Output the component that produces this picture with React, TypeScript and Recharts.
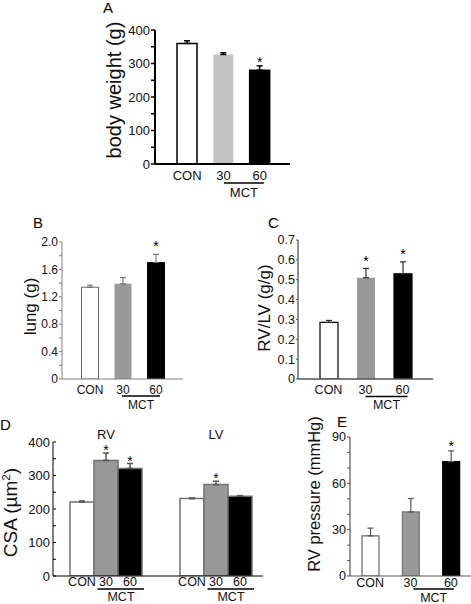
import React from "react";
import { BarChart, Bar, XAxis, YAxis, ErrorBar, Cell, LabelList } from "recharts";

const FONT = '"Liberation Sans", Arial, Helvetica, sans-serif';
const W = 471;
const H = 604;

// ---------- categories ----------
const groups = ["CON", "30", "60"];
const mctLabel = "MCT";
const panelLetters = ["A", "B", "C", "D", "E"];
const yTitles = ["body weight (g)", "lung (g)", "RV/LV (g/g)", "CSA (µm", "RV pressure (mmHg)"];

// ---------- A: body weight ----------
const bodyWeight = [360, 327, 280];
const bodyWeightErr = [8, 5, 13];
const bodyWeightSig = [false, false, true];

// ---------- B: lung ----------
const lungWeight = [1.34, 1.39, 1.7];
const lungWeightErr = [0.03, 0.09, 0.12];
const lungWeightSig = [false, false, true];

// ---------- C: RV/LV ----------
const rvLvRatio = [0.285, 0.51, 0.53];
const rvLvRatioErr = [0.01, 0.047, 0.06];
const rvLvRatioSig = [false, true, true];

// ---------- D: CSA ----------
const csaRegions = ["RV", "LV"];
const csaCon = [221, 231];
const csaConErr = [3, 2];
const csaConSig = [false, false];
const csa30 = [345, 273];
const csa30Err = [22, 10];
const csa30Sig = [true, true];
const csa60 = [321, 238];
const csa60Err = [15, 2];
const csa60Sig = [true, false];

// ---------- E: RV pressure ----------
const rvPressure = [26, 41.5, 74];
const rvPressureErr = [5, 8.7, 7];
const rvPressureSig = [false, false, true];

// ---------- tick values / labels ----------
const ticksA = [0, 50, 100, 150, 200, 250, 300, 350, 400];
const tickLabelsA = ["0", "", "100", "", "200", "", "300", "", "400"];
const ticksB = [0, 0.2, 0.4, 0.6, 0.8, 1.0, 1.2, 1.4, 1.6, 1.8, 2.0];
const tickLabelsB = ["0", "", "0.4", "", "0.8", "", "1.2", "", "1.6", "", "2.0"];
const ticksC = [0, 0.1, 0.2, 0.3, 0.4, 0.5, 0.6, 0.7];
const tickLabelsC = ["0", "0.1", "0.2", "0.3", "0.4", "0.5", "0.6", "0.7"];
const ticksD = [0, 50, 100, 150, 200, 250, 300, 350, 400];
const tickLabelsD = ["0", "", "100", "", "200", "", "300", "", "400"];
const ticksE = [0, 10, 20, 30, 40, 50, 60, 70, 80, 90];
const tickLabelsE = ["0", "", "", "30", "", "", "60", "", "", "90"];

const makeRows = (values: number[], errs: number[], sig: boolean[]) =>
  groups.map((g, i) => ({
    name: g,
    value: values[i],
    err: errs[i],
    errRange: [0, errs[i]],
    star: sig[i],
  }));

const csaRows = csaRegions.map((r, i) => ({
  name: r,
  con: csaCon[i],
  conErr: csaConErr[i],
  conRange: [0, csaConErr[i]],
  conStar: csaConSig[i],
  m30: csa30[i],
  m30Err: csa30Err[i],
  m30Range: [0, csa30Err[i]],
  m30Star: csa30Sig[i],
  m60: csa60[i],
  m60Err: csa60Err[i],
  m60Range: [0, csa60Err[i]],
  m60Star: csa60Sig[i],
}));

const fmt = (ticks: number[], labels: string[]) => (v: number) => {
  const i = ticks.findIndex((t) => Math.abs(t - v) < 1e-6);
  return i >= 0 ? labels[i] : "";
};

function starRenderer(rows: any[], valueKey: string, errKey: string, starKey: string, dy: number, size: number) {
  return function Star(props: any) {
    const vb = props.viewBox || {};
    const x = vb.x ?? props.x;
    const y = vb.y ?? props.y;
    const w = vb.width ?? props.width;
    const h = vb.height ?? props.height;
    const row = rows[props.index];
    if (!row || !row[starKey] || !row[valueKey]) return null;
    const top = y - (row[errKey] * h) / row[valueKey];
    return (
      <text x={x + w / 2} y={top + dy} textAnchor="middle" fontSize={size} fontFamily={FONT} fill="#000">
        *
      </text>
    );
  };
}

function makeXTick(cfg: any) {
  return function XT(props: any) {
    const { x, y, payload, index } = props;
    const x1 = x + cfg.lineA;
    const x2 = x + cfg.step + cfg.lineB;
    return (
      <g>
        <text x={x} y={y + cfg.labelDy} textAnchor="middle" fontSize={cfg.font} fontFamily={FONT} fill="#111">
          {payload.value}
        </text>
        {index === 1 ? (
          <>
            <line x1={x1} x2={x2} y1={y + cfg.lineDy} y2={y + cfg.lineDy} stroke="#000" strokeWidth={cfg.lineWidth} />
            <text
              x={(x1 + x2) / 2}
              y={y + cfg.mctDy}
              textAnchor="middle"
              fontSize={cfg.font}
              fontFamily={FONT}
              fill="#111"
            >
              {mctLabel}
            </text>
          </>
        ) : null}
      </g>
    );
  };
}

function SimplePanel({ c }: { c: any }) {
  const plotW = c.width - c.yAxisWidth - c.marginRight;
  const step = (plotW - c.padL - c.padR) / c.rows.length;
  const xTick = makeXTick({ ...c.xt, step });
  return (
    <div style={{ position: "absolute", left: c.left, top: c.top, width: c.width, height: c.height }}>
      <BarChart
        width={c.width}
        height={c.height}
        data={c.rows}
        margin={{ top: c.marginTop, right: c.marginRight, bottom: 0, left: 0 }}
      >
        <XAxis
          dataKey="name"
          height={c.xAxisHeight}
          padding={{ left: c.padL, right: c.padR }}
          interval={0}
          tickLine={false}
          tickSize={0}
          tickMargin={0}
          axisLine={{ stroke: c.axisColor, strokeWidth: c.axisWidth }}
          tick={xTick}
        />
        <YAxis
          width={c.yAxisWidth}
          domain={c.domain}
          ticks={c.ticks}
          interval={0}
          allowDataOverflow
          tickFormatter={fmt(c.ticks, c.tickLabels)}
          tickSize={c.tickSize}
          tickMargin={c.tickMargin}
          tickLine={{ stroke: c.axisColor, strokeWidth: c.tickWidth }}
          axisLine={{ stroke: c.axisColor, strokeWidth: c.axisWidth }}
          tick={{ fontSize: c.tickFont, fill: "#111", fontFamily: FONT }}
        />
        <Bar dataKey="value" barSize={c.barSize} isAnimationActive={false}>
          {c.rows.map((r: any, i: number) => (
            <Cell key={i} fill={c.fills[i]} stroke={c.strokes[i]} strokeWidth={c.strokeWidth} />
          ))}
          <ErrorBar dataKey="errRange" width={3} stroke={c.errColor} strokeWidth={c.errWidth} direction="y" />
          <LabelList content={starRenderer(c.rows, "value", "err", "star", c.starDy, 14)} />
        </Bar>
      </BarChart>
    </div>
  );
}

const panelA = {
  left: 95, top: 0, width: 200, height: 200, marginTop: 30, marginRight: 5, yAxisWidth: 60, xAxisHeight: 36,
  padL: 14, padR: 12, barSize: 20, domain: [0, 400], ticks: ticksA, tickLabels: tickLabelsA,
  tickFont: 13, tickSize: 4, tickMargin: 1, tickWidth: 1.5, axisColor: "#000", axisWidth: 2,
  rows: makeRows(bodyWeight, bodyWeightErr, bodyWeightSig),
  fills: ["#ffffff", "#c2c2c2", "#000000"], strokes: ["#000", "none", "#000"], strokeWidth: 1.5,
  errColor: "#000", errWidth: 1.5,
  xt: { font: 13, labelDy: 15.5, lineDy: 19, mctDy: 33, lineA: 0.5, lineB: 4, lineWidth: 1.5 },
  starDy: 1.2,
};

const panelB = {
  left: 0, top: 200, width: 188, height: 215, marginTop: 42, marginRight: 5, yAxisWidth: 62, xAxisHeight: 36,
  padL: 11.5, padR: 10.5, barSize: 17, domain: [0, 2], ticks: ticksB, tickLabels: tickLabelsB,
  tickFont: 12, tickSize: 3, tickMargin: 1, tickWidth: 1, axisColor: "#808080", axisWidth: 1,
  rows: makeRows(lungWeight, lungWeightErr, lungWeightSig),
  fills: ["#ffffff", "#999999", "#000000"], strokes: ["#666", "none", "#000"], strokeWidth: 1,
  errColor: "#666", errWidth: 1,
  xt: { font: 12, labelDy: 14.5, lineDy: 17, mctDy: 29.5, lineA: -1, lineB: 4, lineWidth: 1.3 },
  starDy: -3.4,
};

const panelC = {
  left: 236, top: 200, width: 202, height: 215, marginTop: 40, marginRight: 5, yAxisWidth: 62, xAxisHeight: 36,
  padL: 12, padR: 12, barSize: 18, domain: [0, 0.7], ticks: ticksC, tickLabels: tickLabelsC,
  tickFont: 12.5, tickSize: 2, tickMargin: 1, tickWidth: 1, axisColor: "#555", axisWidth: 1.3,
  rows: makeRows(rvLvRatio, rvLvRatioErr, rvLvRatioSig),
  fills: ["#ffffff", "#999999", "#000000"], strokes: ["#000", "none", "#000"], strokeWidth: 1.2,
  errColor: "#333", errWidth: 1.2,
  xt: { font: 12.5, labelDy: 14.5, lineDy: 17.5, mctDy: 29.5, lineA: 0, lineB: 5, lineWidth: 1.3 },
  starDy: -2.8,
};

const panelE = {
  left: 290, top: 415, width: 181, height: 189, marginTop: 22, marginRight: 0, yAxisWidth: 60, xAxisHeight: 28,
  padL: 0, padR: 0, barSize: 17, domain: [0, 90], ticks: ticksE, tickLabels: tickLabelsE,
  tickFont: 12.5, tickSize: 3, tickMargin: 1, tickWidth: 1, axisColor: "#555", axisWidth: 1.2,
  rows: makeRows(rvPressure, rvPressureErr, rvPressureSig),
  fills: ["#ffffff", "#999999", "#000000"], strokes: ["#666", "#777", "#000"], strokeWidth: 1.2,
  errColor: "#555", errWidth: 1.2,
  xt: { font: 12.5, labelDy: 10.5, lineDy: 13, mctDy: 25.5, lineA: 3, lineB: 3, lineWidth: 1.3 },
  starDy: -0.4,
};

const D_BAR = 24;

function DTick(props: any) {
  const { x, y } = props;
  return (
    <g>
      {groups.map((g, k) => (
        <text
          key={k}
          x={x + (k - 1) * D_BAR}
          y={y + 10}
          textAnchor="middle"
          fontSize={12.5}
          fontFamily={FONT}
          fill="#111"
        >
          {g}
        </text>
      ))}
      <line x1={x - 8.5} x2={x + 38} y1={y + 13} y2={y + 13} stroke="#000" strokeWidth={1.3} />
      <text x={x + 15} y={y + 24.5} textAnchor="middle" fontSize={12.5} fontFamily={FONT} fill="#111">
        {mctLabel}
      </text>
    </g>
  );
}

function PanelD() {
  const width = 268;
  const height = 189;
  const pad = { left: -2, right: -8 };
  const series = [
    { key: "con", fill: "#ffffff" },
    { key: "m30", fill: "#999999" },
    { key: "m60", fill: "#000000" },
  ];
  return (
    <div style={{ position: "absolute", left: 0, top: 415, width, height }}>
      <BarChart
        width={width}
        height={height}
        data={csaRows}
        barGap={0}
        margin={{ top: 15, right: 5, bottom: 0, left: 0 }}
      >
        <XAxis
          dataKey="name"
          height={28}
          padding={pad}
          interval={0}
          tickLine={false}
          tickSize={0}
          tickMargin={0}
          axisLine={{ stroke: "#000", strokeWidth: 1 }}
          tick={DTick}
        />
        <XAxis
          xAxisId="top"
          orientation="top"
          dataKey="name"
          height={12}
          padding={pad}
          interval={0}
          axisLine={false}
          tickLine={false}
          tickSize={0}
          tickMargin={3}
          tick={{ fontSize: 13, fill: "#111", fontFamily: FONT }}
        />
        <YAxis
          width={53}
          domain={[0, 400]}
          ticks={ticksD}
          interval={0}
          allowDataOverflow
          tickFormatter={fmt(ticksD, tickLabelsD)}
          tickSize={-3}
          tickMargin={6}
          tickLine={{ stroke: "#000", strokeWidth: 1 }}
          axisLine={{ stroke: "#000", strokeWidth: 1 }}
          tick={{ fontSize: 13, fill: "#111", fontFamily: FONT }}
        />
        {series.map((s) => (
          <Bar
            key={s.key}
            dataKey={s.key}
            barSize={D_BAR}
            fill={s.fill}
            stroke="#707070"
            strokeWidth={1.5}
            isAnimationActive={false}
          >
            <ErrorBar dataKey={`${s.key}Range`} width={3} stroke="#555" strokeWidth={1.5} direction="y" />
            <LabelList content={starRenderer(csaRows, s.key, `${s.key}Err`, `${s.key}Star`, 2.3, 14)} />
          </Bar>
        ))}
      </BarChart>
    </div>
  );
}

const letterPos = [
  { x: 103, y: 13 },
  { x: 33, y: 228 },
  { x: 268, y: 228 },
  { x: 0, y: 430 },
  { x: 337, y: 427 },
];

// y-axis title placement: baseline x, vertical centre, font size
const yTitlePos = [
  { x: 121, y: 90, size: 20, sup: "" },
  { x: 35.5, y: 306.5, size: 17, sup: "" },
  { x: 270, y: 308, size: 17, sup: "" },
  { x: 17, y: 512.5, size: 19, sup: "2" },
  { x: 319.5, y: 494, size: 16.5, sup: "" },
];

export default function App() {
  return (
    <div
      style={{
        position: "absolute",
        left: 0,
        top: 0,
        width: W,
        height: H,
        background: "#ffffff",
        overflow: "hidden",
        fontFamily: FONT,
      }}
    >
      <SimplePanel c={panelA} />
      <SimplePanel c={panelB} />
      <SimplePanel c={panelC} />
      <PanelD />
      <SimplePanel c={panelE} />
      <svg width={W} height={H} style={{ position: "absolute", left: 0, top: 0, pointerEvents: "none" }}>
        {panelLetters.map((l, i) => (
          <text key={l} x={letterPos[i].x} y={letterPos[i].y} fontSize={15} fontFamily={FONT} fill="#000">
            {l}
          </text>
        ))}
        {yTitles.map((t, i) => {
          const p = yTitlePos[i];
          return (
            <text
              key={t}
              x={p.x}
              y={p.y}
              transform={`rotate(-90 ${p.x} ${p.y})`}
              textAnchor="middle"
              fontSize={p.size}
              fontFamily={FONT}
              fill="#111"
            >
              {t}
              {p.sup ? (
                <>
                  <tspan dy={-p.size * 0.38} fontSize={p.size * 0.62}>
                    {p.sup}
                  </tspan>
                  <tspan dy={p.size * 0.38}>)</tspan>
                </>
              ) : null}
            </text>
          );
        })}
      </svg>
    </div>
  );
}
